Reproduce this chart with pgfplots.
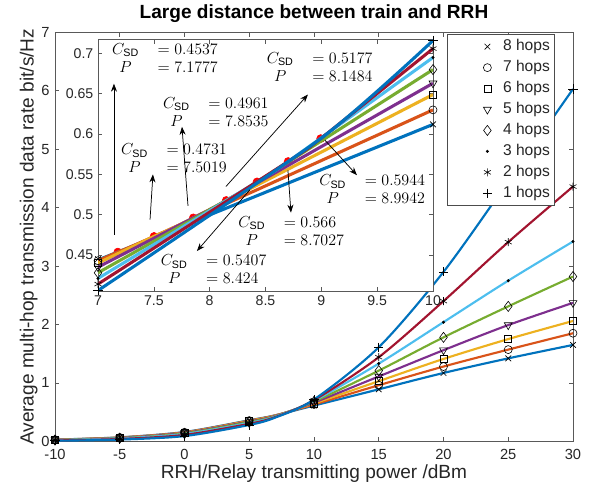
\documentclass[border=0pt]{standalone}
\usepackage{pgfplots}
\usepackage{pgfplotstable}
\pgfplotsset{compat=1.18}
\usepackage{fontspec}
\setmainfont{Liberation Sans}
\usetikzlibrary{arrows.meta}

\definecolor{c1}{HTML}{0072BD}
\definecolor{c2}{HTML}{D95319}
\definecolor{c3}{HTML}{EDB120}
\definecolor{c4}{HTML}{7E2F8E}
\definecolor{c5}{HTML}{77AC30}
\definecolor{c6}{HTML}{4DBEEE}
\definecolor{c7}{HTML}{A2142F}
\definecolor{txt}{HTML}{262626}

% annotation text: C_SD and P with their values
\newcommand{\ann}[2]{$\begin{array}{c@{\hspace{14pt}}l} C_{\mathrm{SD}} & = #1\\ P & = #2\end{array}$}

% rate vs. power, one column per number of hops
\pgfplotstableread{
x     h1     h2     h3     h4     h5     h6     h7     h8
-10   0.010  0.015  0.020  0.022  0.024  0.026  0.028  0.030
-5    0.030  0.040  0.050  0.055  0.060  0.063  0.066  0.068
0     0.090  0.110  0.125  0.135  0.145  0.150  0.155  0.160
5     0.280  0.300  0.315  0.330  0.340  0.350  0.355  0.360
7     0.406  0.414  0.421  0.428  0.435  0.440  0.443  0.445
10    0.716  0.706  0.695  0.680  0.663  0.649  0.630  0.612
15    1.61   1.44   1.33   1.21   1.11   1.03   0.96   0.89
20    2.90   2.40   2.04   1.78   1.56   1.41   1.28   1.17
25    4.45   3.41   2.75   2.31   1.99   1.75   1.57   1.42
30    6.03   4.36   3.42   2.82   2.37   2.06   1.85   1.65
}\maindata

% zoomed part, 7 to 10 dBm (curves pass through the switching points)
\pgfplotstableread{
x       h1     h2     h3     h4     h5     h6     h7     h8
7       0.406  0.414  0.421  0.428  0.435  0.440  0.443  0.445
7.1777  nan    nan    nan    nan    nan    nan    0.4537 0.4537
7.5019  nan    nan    nan    nan    nan    0.4731 0.4731 nan
7.8535  nan    nan    nan    nan    0.4961 0.4961 nan    nan
8.1484  nan    nan    nan    0.5177 0.5177 nan    nan    nan
8.424   nan    nan    0.5407 0.5407 nan    nan    nan    nan
8.7027  nan    0.566  0.566  nan    nan    nan    nan    nan
8.9942  0.5944 0.5944 nan    nan    nan    nan    nan    nan
10      0.716  0.706  0.695  0.680  0.663  0.649  0.630  0.612
}\zoomdata

% switching points
\pgfplotstableread{
P       C
7.1777  0.4537
7.5019  0.4731
7.8535  0.4961
8.1484  0.5177
8.424   0.5407
8.7027  0.566
8.9942  0.5944
}\switchdata

\pgfplotsset{
  mk/.style={black, line width=0.45pt, mark size=3pt, mark options={solid}},
  ln/.style={line width=1.6pt, no marks, smooth, forget plot},
  zl/.style={line width=2.3pt, no marks, smooth, tension=0.4, forget plot},
  zm/.style={mk, only marks, skip coords between index={1}{8}},
}

\begin{document}
\begin{tikzpicture}
\begin{axis}[
  name=main,
  at={(0pt,0pt)}, anchor=south west,
  width=388.5pt, height=306.75pt, scale only axis,
  xmin=-10, xmax=30, ymin=0, ymax=7,
  xtick={-10,-5,0,5,10,15,20,25,30},
  xticklabels={-10,-5,0,5,10,15,20,25,30},
  ytick={0,1,2,3,4,5,6,7},
  yticklabels={0,1,2,3,4,5,6,7},
  tick align=inside,
  major tick length=3.2pt,
  axis line style={black!65, line width=0.5pt},
  every tick/.style={black!65, line width=0.5pt},
  tick label style={font=\fontsize{11}{13}\selectfont, text=txt},
  xticklabel style={yshift=-2.5pt},
  yticklabel style={xshift=-0.5pt},
  label style={font=\fontsize{14.3}{16}\selectfont, text=txt},
  title style={font=\fontsize{14.3}{16}\selectfont\bfseries, text=black, yshift=-2pt},
  title={Large distance between train and RRH},
  xlabel={RRH/Relay transmitting power /dBm},
  ylabel={Average multi-hop transmission data rate bit/s/Hz},
  xlabel style={yshift=3.5pt},
  ylabel style={yshift=-4pt},
  clip mode=individual,
  legend style={at={(axis description cs:0.965,0.996)}, anchor=north east,
    draw=black!70, fill=white, line width=0.5pt,
    font=\fontsize{11.7}{13}\selectfont, text=txt,
    inner sep=2pt, row sep=1.1pt,
    nodes={inner ysep=1.8pt, inner xsep=1.5pt, text height=8.6pt, text depth=2.4pt},
    cells={anchor=west}},
  legend image code/.code={\path (0pt,0pt) (38pt,0pt); \draw[#1] plot coordinates {(28pt,0pt)};},
]
\addplot[ln, c1] table[x=x, y=h8] {\maindata};
\addplot[ln, c2] table[x=x, y=h7] {\maindata};
\addplot[ln, c3] table[x=x, y=h6] {\maindata};
\addplot[ln, c4] table[x=x, y=h5] {\maindata};
\addplot[ln, c5] table[x=x, y=h4] {\maindata};
\addplot[ln, c6] table[x=x, y=h3] {\maindata};
\addplot[ln, c7] table[x=x, y=h2] {\maindata};
\addplot[ln, c1] table[x=x, y=h1] {\maindata};

\addplot[mk, only marks, mark=x, skip coords between index={4}{5}] table[x=x, y=h8] {\maindata};
\addlegendentry{8 hops}
\addplot[mk, only marks, mark=o, skip coords between index={4}{5}] table[x=x, y=h7] {\maindata};
\addlegendentry{7 hops}
\addplot[mk, only marks, mark=square, mark size=2.6pt, skip coords between index={4}{5}] table[x=x, y=h6] {\maindata};
\addlegendentry{6 hops}
\addplot[mk, only marks, mark=triangle, mark size=3.4pt, mark options={rotate=180}, skip coords between index={4}{5}] table[x=x, y=h5] {\maindata};
\addlegendentry{5 hops}
\addplot[mk, only marks, mark=diamond, mark size=3.8pt, skip coords between index={4}{5}] table[x=x, y=h4] {\maindata};
\addlegendentry{4 hops}
\addplot[mk, only marks, mark=*, mark size=0.9pt, skip coords between index={4}{5}] table[x=x, y=h3] {\maindata};
\addlegendentry{3 hops}
\addplot[mk, only marks, mark=asterisk, skip coords between index={4}{5}] table[x=x, y=h2] {\maindata};
\addlegendentry{2 hops}
\addplot[mk, only marks, mark=+, mark size=3.4pt, skip coords between index={4}{5}] table[x=x, y=h1] {\maindata};
\addlegendentry{1 hops}
\end{axis}

\begin{axis}[
  name=inset,
  at={(32.25pt,112.5pt)}, anchor=south west,
  width=251.25pt, height=189pt, scale only axis,
  xmin=7, xmax=10, ymin=0.405, ymax=0.7175,
  xtick={7,7.5,8,8.5,9,9.5,10},
  xticklabels={7,7.5,8,8.5,9,9.5,10},
  ytick={0.45,0.5,0.55,0.6,0.65,0.7},
  yticklabels={0.45,0.5,0.55,0.6,0.65,0.7},
  tick align=inside,
  major tick length=3.2pt,
  axis line style={black!65, line width=0.5pt},
  every tick/.style={black!65, line width=0.5pt},
  tick label style={font=\fontsize{10.6}{12}\selectfont, text=txt},
  axis background/.style={fill=white},
  clip mode=individual,
]
\addplot[only marks, mark=*, mark size=3pt, color=red, forget plot] table[x=P, y=C] {\switchdata};
\addplot[zl, c1] table[x=x, y=h8] {\zoomdata};
\addplot[zl, c2] table[x=x, y=h7] {\zoomdata};
\addplot[zl, c3] table[x=x, y=h6] {\zoomdata};
\addplot[zl, c4] table[x=x, y=h5] {\zoomdata};
\addplot[zl, c5] table[x=x, y=h4] {\zoomdata};
\addplot[zl, c6] table[x=x, y=h3] {\zoomdata};
\addplot[zl, c7] table[x=x, y=h2] {\zoomdata};
\addplot[zl, c1] table[x=x, y=h1] {\zoomdata};

\addplot[zm, mark=x] table[x=x, y=h8] {\zoomdata};
\addplot[zm, mark=o] table[x=x, y=h7] {\zoomdata};
\addplot[zm, mark=square, mark size=2.6pt] table[x=x, y=h6] {\zoomdata};
\addplot[zm, mark=triangle, mark size=3.4pt, mark options={rotate=180}] table[x=x, y=h5] {\zoomdata};
\addplot[zm, mark=diamond, mark size=3.8pt] table[x=x, y=h4] {\zoomdata};
\addplot[zm, mark=*, mark size=0.9pt] table[x=x, y=h3] {\zoomdata};
\addplot[zm, mark=asterisk] table[x=x, y=h2] {\zoomdata};
\addplot[zm, mark=+, mark size=3.4pt] table[x=x, y=h1] {\zoomdata};

\begin{scope}[every node/.style={font=\fontsize{11.5}{13.5}\selectfont, inner sep=0pt}]
\node at (axis cs:7.600,0.6925) {\ann{0.4537}{7.1777}};
\node at (axis cs:7.680,0.5675) {\ann{0.4731}{7.5019}};
\node at (axis cs:8.055,0.6250) {\ann{0.4961}{7.8535}};
\node at (axis cs:8.985,0.6810) {\ann{0.5177}{8.1484}};
\node at (axis cs:8.035,0.4300) {\ann{0.5407}{8.424}};
\node at (axis cs:8.730,0.4775) {\ann{0.566}{8.7027}};
\node at (axis cs:9.455,0.5290) {\ann{0.5944}{8.9942}};
\end{scope}
\begin{scope}[-{Stealth[length=6pt,width=4.5pt]}, line width=0.55pt, black]
\draw (axis cs:7.143,0.475) -- (axis cs:7.143,0.6625);
\draw (axis cs:7.466,0.494) -- (axis cs:7.492,0.550);
\draw (axis cs:7.806,0.511) -- (axis cs:7.752,0.609);
\draw (axis cs:8.146,0.535) -- (axis cs:8.880,0.649);
\draw (axis cs:8.361,0.531) -- (axis cs:7.886,0.455);
\draw (axis cs:8.701,0.555) -- (axis cs:8.728,0.5025);
\draw (axis cs:9.032,0.5925) -- (axis cs:9.319,0.549);
\end{scope}
\end{axis}
\path (-41.25pt,-39.75pt) rectangle (402.75pt,328.5pt);
\end{tikzpicture}
\end{document}
